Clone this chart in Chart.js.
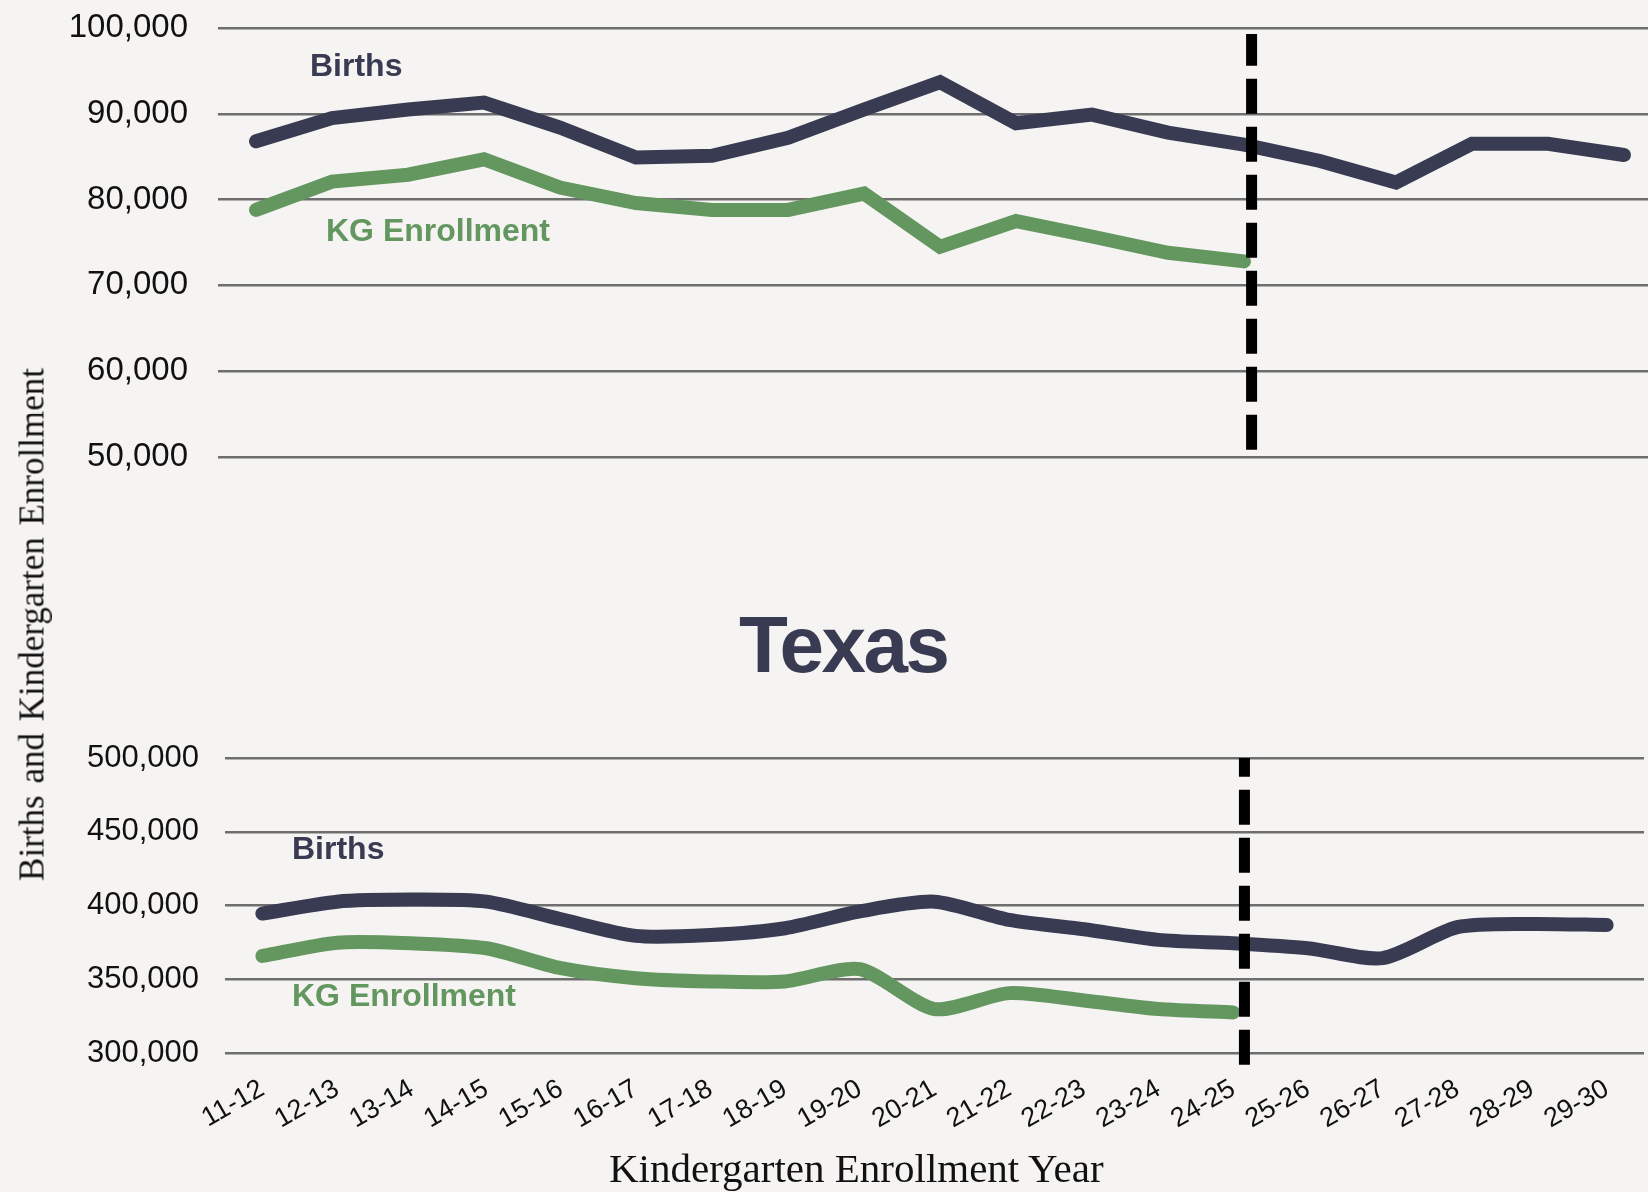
<!DOCTYPE html>
<html>
<head>
<meta charset="utf-8">
<script src="https://cdn.jsdelivr.net/npm/chart.js@4.4.1/dist/chart.umd.min.js"></script>
<style>
  html, body {
    margin: 0;
    padding: 0;
    width: 1648px;
    height: 1192px;
    overflow: hidden;
    background: #f5f4f2;
  }
  canvas {
    position: absolute;
    left: 0;
  }
  #topChart { top: 0; }
  #bottomChart { top: 700px; }
  .lbl {
    position: absolute;
    white-space: nowrap;
    font-family: "Liberation Sans", Arial, sans-serif;
    font-weight: bold;
    font-size: 32px;
    line-height: 32px;
  }
  .births { color: #393b53; }
  .kg { color: #63975f; }
  .title {
    position: absolute;
    left: 739px;
    top: 605px;
    font-family: "Liberation Sans", Arial, sans-serif;
    font-weight: bold;
    font-size: 80px;
    line-height: 80px;
    letter-spacing: -2.5px;
    color: #393b53;
  }
  .axis-title {
    position: absolute;
    white-space: nowrap;
    font-family: "Liberation Serif", "Times New Roman", serif;
    color: #111;
  }
  #yTitle {
    left: -268px;
    top: 607px;
    width: 600px;
    text-align: center;
    font-size: 35px;
    line-height: 35px;
    word-spacing: 3px;
    transform: rotate(-90deg);
  }
  #xTitle {
    left: 609px;
    top: 1148px;
    font-size: 41px;
    line-height: 41px;
  }
</style>
</head>
<body>
<canvas id="topChart" width="1662" height="480"></canvas>
<canvas id="bottomChart" width="1648" height="492"></canvas>

<div class="lbl births" style="left:310px; top:49px;">Births</div>
<div class="lbl kg" style="left:326px; top:214px;">KG Enrollment</div>
<div class="title">Texas</div>
<div class="lbl births" style="left:292px; top:832px;">Births</div>
<div class="lbl kg" style="left:292px; top:979px;">KG Enrollment</div>
<div class="axis-title" id="yTitle">Births and Kindergarten Enrollment</div>
<div class="axis-title" id="xTitle">Kindergarten Enrollment Year</div>

<script>
// school years on the x axis
const years = ["11-12", "12-13", "13-14", "14-15", "15-16", "16-17", "17-18", "18-19", "19-20",
  "20-21", "21-22", "22-23", "23-24", "24-25", "25-26", "26-27", "27-28", "28-29", "29-30"];

// upper panel
const topBirths = [86800, 89500, 90500, 91300, 88400, 84900, 85100, 87200, 90500, 93700,
  88900, 89900, 87800, 86400, 84500, 82000, 86500, 86500, 85200];
const topKG = [78800, 82100, 82900, 84700, 81400, 79600, 78800, 78800, 80700, 74500,
  77500, 75700, 73800, 72800];
const topTicks = [50000, 60000, 70000, 80000, 90000, 100000];

// Texas panel
const txBirths = [394500, 402600, 404000, 402600, 390700, 379400, 380000, 384600, 396000, 402600,
  390200, 383900, 376700, 374400, 371000, 364300, 385300, 387500, 386800];
const txKG = [365800, 374800, 374400, 371000, 357500, 350700, 348500, 348500, 356800, 329800,
  340600, 335600, 329800, 327500];
const txTicks = [300000, 350000, 400000, 450000, 500000];

const BIRTHS_COLOR = "#393b53";
const KG_COLOR = "#63975f";
const GRID_COLOR = "#6e6e6e";

// dashed line between actual and projected years
const dividerPlugin = {
  id: "divider",
  afterDatasetsDraw(chart, args, opts) {
    const { ctx, scales: { x, y } } = chart;
    const px = x.getPixelForValue(opts.at);
    ctx.save();
    ctx.beginPath();
    ctx.setLineDash([35, 13]);
    ctx.lineWidth = 11;
    ctx.strokeStyle = "#000";
    ctx.moveTo(px, y.getPixelForValue(opts.from));
    ctx.lineTo(px, y.getPixelForValue(opts.to));
    ctx.stroke();
    ctx.restore();
  }
};

function lineSet(data, color, tension) {
  return {
    data: data,
    borderColor: color,
    borderWidth: 14,
    borderCapStyle: "round",
    borderJoinStyle: tension ? "round" : "miter",
    tension: tension,
    pointRadius: 0,
    fill: false
  };
}

function makeChart(id, cfg) {
  return new Chart(document.getElementById(id), {
    type: "line",
    data: {
      labels: years,
      datasets: [
        lineSet(cfg.births, BIRTHS_COLOR, cfg.tension),
        lineSet(cfg.kg, KG_COLOR, cfg.tension)
      ]
    },
    options: {
      responsive: false,
      animation: false,
      layout: { padding: cfg.padding },
      plugins: {
        legend: { display: false },
        tooltip: { enabled: false },
        divider: cfg.divider
      },
      scales: {
        x: {
          display: cfg.showX,
          offset: true,
          grid: { display: false },
          border: { display: false },
          afterFit: (scale) => {
            if (cfg.xHeight) scale.height = cfg.xHeight;
            scale.paddingLeft = 0;
            scale.paddingRight = 0;
          },
          ticks: {
            autoSkip: false,
            minRotation: 30,
            maxRotation: 30,
            padding: 12,
            color: "#111",
            font: { family: "Liberation Sans", size: 27 }
          }
        },
        y: {
          min: cfg.ticks[0],
          max: cfg.ticks[cfg.ticks.length - 1],
          afterBuildTicks: (scale) => { scale.ticks = cfg.ticks.map((v) => ({ value: v })); },
          afterFit: (scale) => {
            scale.width = cfg.yWidth;
            scale.paddingTop = 0;
            scale.paddingBottom = 0;
          },
          grid: { color: GRID_COLOR, lineWidth: 2.5, drawTicks: false },
          border: { display: false },
          ticks: {
            padding: cfg.tickPad,
            color: "#111",
            font: { family: "Liberation Sans", size: cfg.tickSize }
          }
        }
      }
    },
    plugins: [dividerPlugin]
  });
}

makeChart("topChart", {
  births: topBirths,
  kg: topKG,
  ticks: topTicks,
  tension: 0,
  showX: false,
  yWidth: 218,
  tickPad: 30,
  tickSize: 33,
  padding: { top: 28, bottom: 23, left: 0, right: 0 },
  divider: { at: 13.1, from: 50850, to: 99300 }
});

makeChart("bottomChart", {
  births: txBirths,
  kg: txKG,
  ticks: txTicks,
  tension: 0.25,
  showX: true,
  xHeight: 139,
  yWidth: 225,
  tickPad: 26,
  tickSize: 31,
  padding: { top: 58, bottom: 0, left: 0, right: 4 },
  divider: { at: 13.15, from: 292000, to: 500000 }
});
</script>
</body>
</html>
